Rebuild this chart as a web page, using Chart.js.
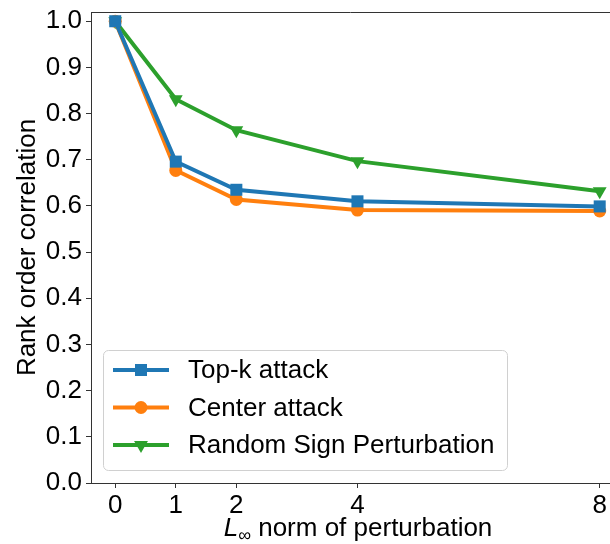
<!DOCTYPE html>
<html>
<head>
<meta charset="utf-8">
<script src="https://cdn.jsdelivr.net/npm/chart.js@4.4.0/dist/chart.umd.min.js"></script>
<style>
  html, body { margin: 0; padding: 0; background: #fff; overflow: hidden; }
  #wrap { width: 610px; height: 544px; }
</style>
</head>
<body>
<div id="wrap"><canvas id="c"></canvas></div>
<script>
// values
const perturbation = [0, 1, 2, 4, 8];
const topKAttack = [1.0, 0.696, 0.635, 0.610, 0.599];
const centerAttack = [1.0, 0.677, 0.614, 0.591, 0.589];
const randomSign = [1.0, 0.831, 0.764, 0.697, 0.632];
const xTickValues = [0, 1, 2, 4, 8];
const yTickValues = [0, 0.1, 0.2, 0.3, 0.4, 0.5, 0.6, 0.7, 0.8, 0.9, 1.0];
const yTickLabels = ['0.0', '0.1', '0.2', '0.3', '0.4', '0.5', '0.6', '0.7', '0.8', '0.9', '1.0'];

const FONT = "'Liberation Sans', Arial, sans-serif";
const pts = ys => perturbation.map((x, i) => ({ x: x, y: ys[i] }));

function series(label, ys, color, style, radius, rotation) {
  return {
    label: label,
    data: pts(ys),
    borderColor: color,
    backgroundColor: color,
    borderWidth: 4,
    pointStyle: style,
    pointRadius: radius,
    pointHoverRadius: radius,
    pointRotation: rotation,
    pointBorderWidth: 0,
    tension: 0,
    clip: false
  };
}

function marker(ctx, ds, x, y) {
  const opts = { pointStyle: ds.pointStyle, radius: ds.pointRadius, rotation: ds.pointRotation, borderWidth: 0 };
  ctx.fillStyle = ds.backgroundColor;
  ctx.strokeStyle = ds.backgroundColor;
  Chart.helpers.drawPoint(ctx, opts, x, y);
}

// frame top, axis titles and the in-plot legend
const extras = {
  id: 'extras',
  afterDraw(chart) {
    const ctx = chart.ctx;
    const a = chart.chartArea;
    ctx.save();
    ctx.strokeStyle = '#333';
    ctx.lineWidth = 1;
    ctx.beginPath();
    ctx.moveTo(a.left, a.top + 0.5);
    ctx.lineTo(a.right, a.top + 0.5);
    ctx.stroke();

    // y title
    ctx.fillStyle = '#000';
    ctx.font = '26px ' + FONT;
    ctx.textAlign = 'center';
    ctx.textBaseline = 'middle';
    ctx.save();
    ctx.translate(28, (a.top + a.bottom) / 2);
    ctx.rotate(-Math.PI / 2);
    ctx.fillText('Rank order correlation', 0, 0);
    ctx.restore();

    // x title: italic L with subscript infinity
    const rest = ' norm of perturbation';
    ctx.textAlign = 'left';
    ctx.textBaseline = 'alphabetic';
    ctx.font = 'italic 26px ' + FONT;
    const wL = ctx.measureText('L').width;
    ctx.font = '18px ' + FONT;
    const wInf = ctx.measureText('\u221e').width;
    ctx.font = '26px ' + FONT;
    const wRest = ctx.measureText(rest).width;
    let x0 = 358 - (wL + wInf + wRest) / 2;
    const base = 536;
    ctx.font = 'italic 26px ' + FONT;
    ctx.fillText('L', x0, base);
    ctx.font = '18px ' + FONT;
    ctx.fillText('\u221e', x0 + wL, base + 5);
    ctx.font = '26px ' + FONT;
    ctx.fillText(rest, x0 + wL + wInf, base);

    // legend
    const lx = a.left + 12, ly = a.bottom - 133, lw = 404, lh = 120;
    ctx.fillStyle = 'rgba(255,255,255,0.8)';
    ctx.strokeStyle = '#d0d0d0';
    ctx.lineWidth = 1;
    ctx.beginPath();
    ctx.roundRect(lx + 0.5, ly + 0.5, lw, lh, 5);
    ctx.fill();
    ctx.stroke();
    chart.data.datasets.forEach((ds, i) => {
      const cy = ly + 20 + i * 37.5;
      ctx.strokeStyle = ds.borderColor;
      ctx.lineWidth = 4;
      ctx.beginPath();
      ctx.moveTo(lx + 10, cy);
      ctx.lineTo(lx + 66, cy);
      ctx.stroke();
      marker(ctx, ds, lx + 38, cy);
      ctx.fillStyle = '#000';
      ctx.font = '26px ' + FONT;
      ctx.textAlign = 'left';
      ctx.textBaseline = 'middle';
      ctx.fillText(ds.label, lx + 85, cy + 1);
    });
    ctx.restore();
  }
};

new Chart(document.getElementById('c'), {
  type: 'line',
  data: {
    datasets: [
      series('Top-k attack', topKAttack, '#1f77b4', 'rect', 8.5, 0),
      series('Center attack', centerAttack, '#ff7f0e', 'circle', 6.5, 0),
      series('Random Sign Perturbation', randomSign, '#2ca02c', 'triangle', 8, 180)
    ]
  },
  options: {
    responsive: true,
    maintainAspectRatio: false,
    animation: false,
    layout: { autoPadding: false, padding: { top: 12, right: 0, left: 0, bottom: 0 } },
    plugins: { legend: { display: false }, tooltip: { enabled: false } },
    scales: {
      x: {
        type: 'linear',
        min: -0.4,
        max: 8.17,
        afterBuildTicks: s => { s.ticks = xTickValues.map(v => ({ value: v })); },
        afterFit: s => { s.height = 61; s.paddingLeft = 0; s.paddingRight = 0; },
        ticks: { color: '#000', font: { family: FONT, size: 26 }, padding: 2, maxRotation: 0, autoSkip: false },
        grid: { drawOnChartArea: false, drawTicks: true, tickLength: 5, color: '#333' },
        border: { display: true, color: '#333', width: 1 }
      },
      y: {
        min: 0,
        max: 1.02,
        afterBuildTicks: s => { s.ticks = yTickValues.map(v => ({ value: v })); },
        afterFit: s => { s.width = 91; s.paddingTop = 0; s.paddingBottom = 0; },
        ticks: {
          color: '#000',
          font: { family: FONT, size: 26 },
          padding: 4,
          autoSkip: false,
          callback: (v, i) => yTickLabels[i]
        },
        grid: { drawOnChartArea: false, drawTicks: true, tickLength: 5, color: '#333' },
        border: { display: true, color: '#333', width: 1 }
      }
    }
  },
  plugins: [extras]
});
</script>
</body>
</html>
